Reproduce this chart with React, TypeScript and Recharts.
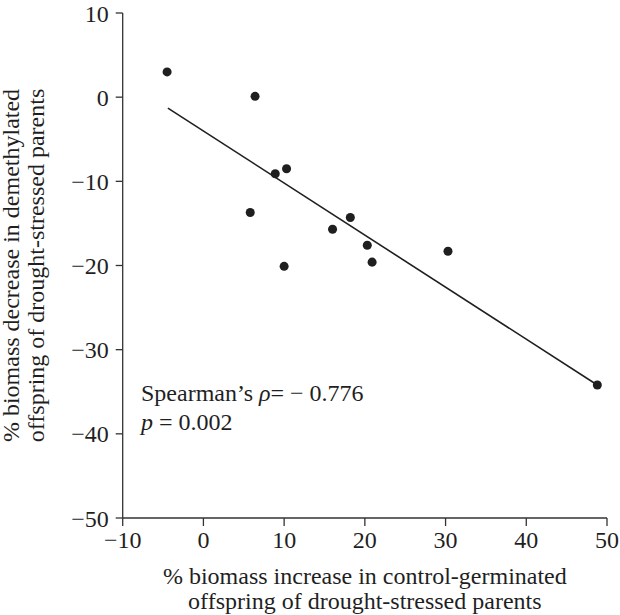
import { ScatterChart, Scatter, XAxis, YAxis, Label } from 'recharts';

// ── Data ──────────────────────────────────────────────────────────────────────

const xValues = [-4.5, 6.4, 8.9, 10.3, 5.8, 18.2, 16.0, 20.3, 20.9, 10.0, 30.3, 48.8];
const yValues = [3.0, 0.1, -9.1, -8.5, -13.7, -14.3, -15.7, -17.6, -19.6, -20.1, -18.3, -34.2];

// least-squares fit, end points
const fitX = [-4.4, 48.8];
const fitY = [-1.3, -34.2];

const xTicks = [-10, 0, 10, 20, 30, 40, 50];
const yTicks = [10, 0, -10, -20, -30, -40, -50];

const xLabelLines = ['% biomass increase in control-germinated', 'offspring of drought-stressed parents'];
const yLabelLines = ['% biomass decrease in demethylated', 'offspring of drought-stressed parents'];

const points = xValues.map((x, i) => ({ x, y: yValues[i] }));
const fitLine = fitX.map((x, i) => ({ x, y: fitY[i] }));

// ── Styles ────────────────────────────────────────────────────────────────────

const FONT = 'Liberation Serif';
const INK = '#1f1f1f';
const AXIS = '#333333';

const fmt = (v: number) => String(v).replace('-', '\u2212');

// x-axis title plus the statistics note (both in page coordinates)
function XAxisLabel({ viewBox }: any) {
    const cx = viewBox.x + viewBox.width / 2;
    return (
        <g>
            <text fontFamily={FONT} fontSize={24} fill={INK} textAnchor="middle">
                <tspan x={cx} y={584}>{xLabelLines[0]}</tspan>
                <tspan x={cx} y={609}>{xLabelLines[1]}</tspan>
            </text>
            <text fontFamily={FONT} fontSize={24} fill={INK}>
                <tspan x={141} y={401}>Spearman{'\u2019'}s </tspan>
                <tspan fontStyle="italic">{'\u03C1'}</tspan>
                <tspan>{'= \u2212 0.776'}</tspan>
                <tspan x={141} y={430} fontStyle="italic">p</tspan>
                <tspan>{'  = 0.002'}</tspan>
            </text>
        </g>
    );
}

function YAxisLabel({ viewBox }: any) {
    const cy = viewBox.y + viewBox.height / 2;
    return (
        <g>
            <text fontFamily={FONT} fontSize={24} fill={INK} x={19} y={cy} textAnchor="middle" transform={`rotate(-90, 19, ${cy})`}>
                {yLabelLines[0]}
            </text>
            <text fontFamily={FONT} fontSize={24} fill={INK} x={44} y={cy} textAnchor="middle" transform={`rotate(-90, 44, ${cy})`}>
                {yLabelLines[1]}
            </text>
        </g>
    );
}

const NoDot = () => <g />;

// ── Component ─────────────────────────────────────────────────────────────────

export default function App() {
    return (
        <div style={{ position: 'absolute', left: 0, top: 0, width: 620, height: 615, background: '#fff' }}>
            <ScatterChart width={620} height={615} margin={{ top: 13, right: 13, left: 0, bottom: 0 }}>
                <XAxis
                    type="number"
                    dataKey="x"
                    domain={[-10, 50]}
                    ticks={xTicks}
                    interval={0}
                    tickFormatter={fmt}
                    height={97}
                    stroke={AXIS}
                    strokeWidth={1.3}
                    tickSize={8}
                    tickMargin={5}
                    tick={{ fill: INK, fontSize: 24, fontFamily: FONT }}
                    allowDataOverflow
                >
                    <Label content={<XAxisLabel />} />
                </XAxis>
                <YAxis
                    type="number"
                    dataKey="y"
                    domain={[-50, 10]}
                    ticks={yTicks}
                    interval={0}
                    tickFormatter={fmt}
                    width={122.7}
                    stroke={AXIS}
                    strokeWidth={1.3}
                    tickSize={7}
                    tickMargin={7}
                    tick={{ fill: INK, fontSize: 24, fontFamily: FONT }}
                    allowDataOverflow
                >
                    <Label content={<YAxisLabel />} />
                </YAxis>
                <Scatter
                    data={fitLine}
                    line={{ stroke: INK, strokeWidth: 1.6 }}
                    shape={<NoDot />}
                    isAnimationActive={false}
                />
                <Scatter data={points} fill={INK} isAnimationActive={false} shape="circle" />
            </ScatterChart>
        </div>
    );
}
